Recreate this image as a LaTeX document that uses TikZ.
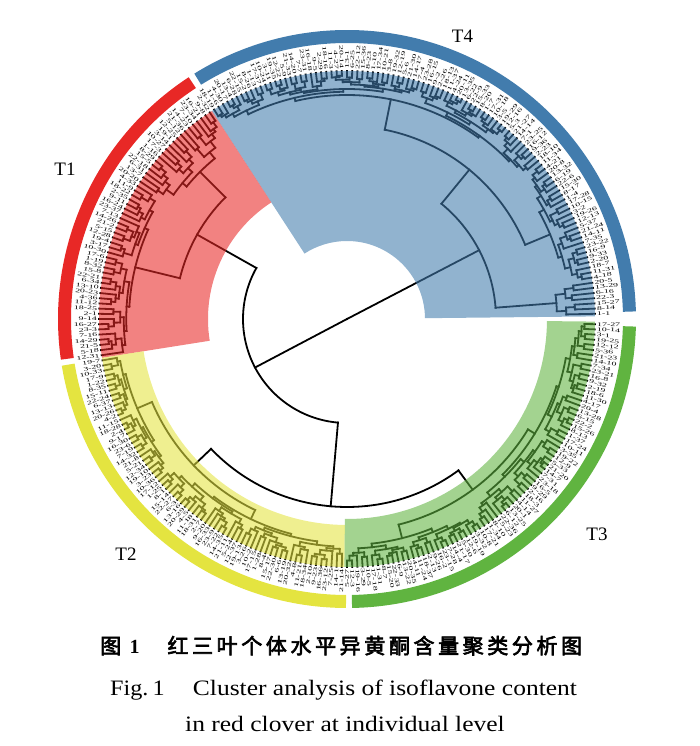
\documentclass[tikz,border=0pt]{standalone}
\usepackage{fontspec}
\setmainfont{Liberation Serif}
\newfontfamily\cjkb[FakeBold=3]{Noto Sans CJK SC}
\definecolor{cB}{RGB}{66,124,173}
\definecolor{cR}{RGB}{232,40,38}
\definecolor{cY}{RGB}{228,228,64}
\definecolor{cG}{RGB}{96,180,64}
\newcount\leafno \newcount\myseed \newcount\mytmp
\myseed=4321
\def\nextrnd{\global\mytmp=\myseed \global\multiply\mytmp by 1105 \global\advance\mytmp by 12345 \global\myseed=\mytmp \global\divide\mytmp by 65536 \global\multiply\mytmp by 65536 \global\advance\myseed by -\mytmp \pgfmathsetmacro\rv{\the\numexpr\myseed/64\relax/1024}}
\def\Rl{248}
\def\lf{%
 \pgfmathsetmacro\la{1.2+1.2*\the\leafno}%
 \draw[br] (\la:\curr) -- (\la:\Rl);
 \pgfmathtruncatemacro\ga{mod(\the\leafno*7,23)+1}%
 \pgfmathtruncatemacro\gb{mod(\the\leafno*13,37)+1}%
 \ifdim\la pt>90pt \ifdim\la pt<270pt \def\lside{1}\else\def\lside{0}\fi\else\def\lside{0}\fi
 \if1\lside
   \pgfmathsetmacro\lr{\la-180}%
   \node[lbl,anchor=east,rotate=\lr] at (\la:250) {\scalebox{1.8}[1]{\ga-\gb}};
 \else
   \node[lbl,anchor=west,rotate=\la] at (\la:250) {\scalebox{1.8}[1]{\ga-\gb}};
 \fi
 \xdef\gret{\la}%
 \global\advance\leafno by 1\relax}
\def\tn#1#2#3{\begingroup
 \let\rp\curr \edef\curr{#1}%
 #2\let\tA\gret
 #3\let\tB\gret
 \pgfmathsetmacro\tm{(\tA+\tB)/2}%
 \draw[br] (\tA:\curr) arc[start angle=\tA,end angle=\tB,radius=\curr];
 \draw[br] (\tm:\rp) -- (\tm:\curr);
 \xdef\gret{\tm}\endgroup}
\def\rs#1{\ifnum#1=1 \lf\else\begingroup
 \edef\nn{#1}%
 \nextrnd
 \pgfmathtruncatemacro\kk{round(\nn*(0.25+0.5*\rv))}%
 \ifnum\kk<1 \def\kk{1}\fi
 \ifnum\kk>\numexpr\nn-1\relax \edef\kk{\the\numexpr\nn-1\relax}\fi
 \pgfmathtruncatemacro\mm{\nn-\kk}%
 \nextrnd
 \pgfmathsetmacro\rr{\curr+(\Rl-\curr)*(0.4+0.6*\rv)/(1+1.1*ln(\nn)/0.6931)}%
 \edef\mynext{\noexpand\tn{\rr}{\noexpand\rs{\kk}}{\noexpand\rs{\mm}}}%
 \mynext\endgroup\fi}
\def\sector#1#2#3#4#5{\fill[#5,opacity=0.58] (#1:#3) arc[start angle=#1,end angle=#2,radius=#3] -- (#2:#4) arc[start angle=#2,end angle=#1,radius=#4] -- cycle;}
\def\ring#1#2#3{\draw[#3,line width=13pt] (#1:282.5) arc[start angle=#1,end angle=#2,radius=282.5];}
\tikzset{
 br/.style={line width=1.8pt, line cap=rect, black},
 lbl/.style={font=\fontsize{5.5}{5.5}\selectfont, inner sep=0pt},
 tlab/.style={font=\fontsize{19}{19}\selectfont},
 cjkc/.style={font=\cjkb\fontsize{21}{21}\selectfont, anchor=base, inner sep=0pt},
 eng/.style={font=\fontsize{22}{22}\selectfont, anchor=base west, inner sep=0pt}
}
\begin{document}
\begin{tikzpicture}[x=1pt,y=1pt]
\useasboundingbox (-347,-427) rectangle (353,319);
% dendrogram
\def\curr{0}
\tn{149}{\tn{210}{\rs{3}}{\rs{4}}}{\tn{193}{\tn{220}{\rs{11}}{\rs{14}}}{\tn{224}{\rs{28}}{\rs{42}}}}
\tn{104}{\tn{172}{\tn{208}{\rs{8}}{\rs{12}}}{\tn{218}{\rs{15}}{\rs{20}}}}{\tn{188}{\tn{212}{\tn{228}{\rs{12}}{\rs{14}}}{\tn{222}{\rs{20}}{\rs{21}}}}{\tn{212}{\tn{226}{\rs{13}}{\rs{15}}}{\tn{220}{\rs{22}}{\rs{25}}}}}
% highlights
\sector{0.6}{123}{78}{248}{cB}
\sector{123}{189}{139}{248}{cR}
\sector{189}{269.4}{206}{248}{cY}
\sector{269.4}{359.4}{200}{248}{cG}
% outer rings
\ring{1.5}{121.9}{cB}
\ring{123.2}{188.1}{cR}
\ring{189.3}{269.8}{cY}
\ring{271.0}{358.5}{cG}
% cluster labels
\node[tlab] (t4) at (115.5,283) {T4};
\node[tlab] (t1) at (-282,150) {T1};
\node[tlab] (t2) at (-221,-235) {T2};
\node[tlab] (t3) at (250,-215) {T3};
% caption
\node[cjkc] (fig) at (-236.2,-334.6) {图};
\node[font=\bfseries\fontsize{20}{20}\selectfont, anchor=base, inner sep=0pt] (fignum) at (-212.3,-334.6) {1};
\foreach \c [count=\i from 0] in {红,三,叶,个,体,水,平,异,黄,酮,含,量,聚,类,分,析,图}{
  \node[cjkc] (c\i) at ({-169+24.6*\i},-334.6) {\c};
}
\node[eng] (figen) at (-237,-376) {\scalebox{1.1}[1]{Fig.\,1}};
\node[eng] (l2) at (-154.3,-376) {\scalebox{1.16}[1]{Cluster analysis of isoflavone content}};
\node[eng] (l3) at (-162,-412) {\scalebox{1.16}[1]{in red clover at individual level}};
\end{tikzpicture}
\end{document}
